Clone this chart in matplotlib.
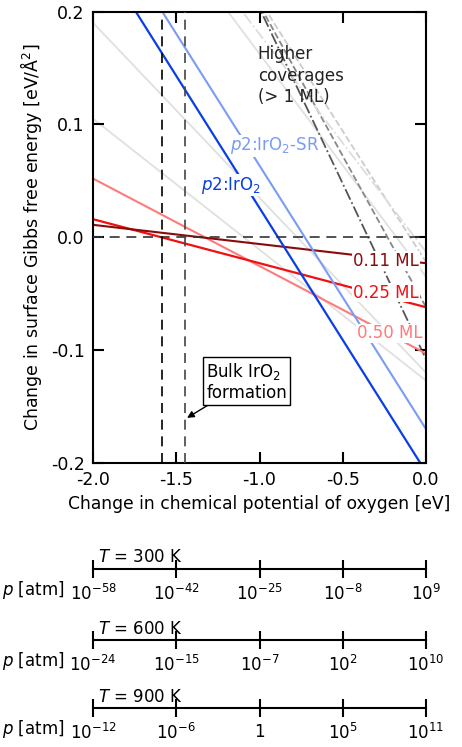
import numpy as np
import matplotlib
matplotlib.use('Agg')
import matplotlib.pyplot as plt

plt.rcParams['font.family'] = ['DejaVu Sans']
plt.rcParams['mathtext.fontset'] = 'dejavusans'

# chemical potential range and surface free energies at its two ends
mu_ends = [-2.0, 0.0]
p2_iro2 = [0.26, -0.208]
p2_iro2_sr = [0.297, -0.170]
cov_011 = [0.011, -0.023]
cov_025 = [0.016, -0.062]
cov_050 = [0.052, -0.103]
grey_lines = [[0.19, -0.120], [0.105, -0.127], [0.36, -0.035]]
high_cov = [[0.514, -0.108], [0.474, -0.062], [0.442, -0.022], [0.373, -0.013]]
high_styles = [('#555555', '-.'), ('#888888', '--'), ('#cccccc', '--'), ('#dddddd', '-.')]

bulk_mu = [-1.584, -1.447]

# pressure scales
scale_T = ['300', '600', '900']
scale_mu = [-2.0, -1.5, -1.0, -0.5, 0.0]
scale_labels = [
    ['10$^{-58}$', '10$^{-42}$', '10$^{-25}$', '10$^{-8}$', '10$^{9}$'],
    ['10$^{-24}$', '10$^{-15}$', '10$^{-7}$', '10$^{2}$', '10$^{10}$'],
    ['10$^{-12}$', '10$^{-6}$', '1', '10$^{5}$', '10$^{11}$'],
]

W, H = 462, 747
fig = plt.figure(figsize=(W / 100, H / 100), dpi=100)
ax = fig.add_axes([93 / W, 1 - 463 / H, 333 / W, 451.5 / H])

for g in grey_lines:
    ax.plot(mu_ends, g, color='#e0e0e0', lw=1.3, zorder=1)
for h, (c, ls) in zip(high_cov, high_styles):
    ax.plot(mu_ends, h, color=c, ls=ls, lw=1.3, zorder=1)

ax.plot(mu_ends, cov_050, color='#ff7a7a', lw=1.5, zorder=2)
ax.plot(mu_ends, cov_025, color='#f01010', lw=1.6, zorder=2)
ax.plot(mu_ends, cov_011, color='#8b0a0a', lw=1.5, zorder=2)
ax.plot(mu_ends, p2_iro2_sr, color='#7b9bf5', lw=1.5, zorder=2)
ax.plot(mu_ends, p2_iro2, color='#0a3ee6', lw=1.6, zorder=2)

ax.axhline(0, color='#333333', ls=(0, (6, 4)), lw=1.2, zorder=3)
ax.axvline(bulk_mu[0], color='black', ls=(0, (6, 4)), lw=1.2, zorder=3)
ax.axvline(bulk_mu[1], color='#444444', ls=(0, (6, 4)), lw=1.2, zorder=3)

wb = dict(facecolor='white', edgecolor='none', pad=0.5)
ax.text(-0.24, -0.021, '0.11 ML', color='#8b0a0a', fontsize=12, ha='center', va='center', bbox=wb, zorder=4)
ax.text(-0.24, -0.049, '0.25 ML', color='#f01010', fontsize=12, ha='center', va='center', bbox=wb, zorder=4)
ax.text(-0.22, -0.085, '0.50 ML', color='#ff7a7a', fontsize=12, ha='center', va='center', bbox=wb, zorder=4)
ax.text(-0.91, 0.081, '$p$2:IrO$_2$-SR', color='#7b9bf5', fontsize=12, ha='center', va='center', bbox=wb, zorder=4)
ax.text(-1.17, 0.046, '$p$2:IrO$_2$', color='#0a3ee6', fontsize=12, ha='center', va='center', bbox=wb, zorder=4)
ax.text(-1.01, 0.170, 'Higher\ncoverages\n(> 1 ML)', color='#222222', fontsize=12,
        ha='left', va='top', linespacing=1.25, zorder=4)

ax.annotate('Bulk IrO$_2$\nformation', xy=(-1.435, -0.160), xytext=(-1.32, -0.128),
            fontsize=12, ha='left', va='center', linespacing=1.15,
            bbox=dict(facecolor='white', edgecolor='black', lw=1.0, pad=2),
            arrowprops=dict(arrowstyle='-|>', color='black', lw=1.0, shrinkA=0, shrinkB=0,
                            mutation_scale=10), zorder=5)

ax.set_xlim(-2.0, 0.0)
ax.set_ylim(-0.2, 0.2)
ax.set_xticks([-2.0, -1.5, -1.0, -0.5, 0.0])
ax.set_yticks([-0.2, -0.1, 0.0, 0.1, 0.2])
ax.set_xticklabels(['-2.0', '-1.5', '-1.0', '-0.5', '0.0'])
ax.set_yticklabels(['-0.2', '-0.1', '0.0', '0.1', '0.2'])
ax.tick_params(direction='in', length=8, width=1.5, labelsize=12.5, top=True, right=True, pad=6)
for s in ax.spines.values():
    s.set_linewidth(1.5)
ax.set_xlabel('Change in chemical potential of oxygen [eV]', fontsize=12.3, labelpad=4)
ax.set_ylabel('Change in surface Gibbs free energy [eV/Å$^2$]', fontsize=12.5, labelpad=5)

# pressure scales below
for i, (T, labs) in enumerate(zip(scale_T, scale_labels)):
    yc = [569, 640, 708][i]
    sax = fig.add_axes([93 / W, 1 - (yc + 10) / H, 333 / W, 20 / H])
    sax.set_xlim(-2.0, 0.0)
    sax.set_ylim(-1, 1)
    for k in ['top', 'left', 'right']:
        sax.spines[k].set_visible(False)
    sax.spines['bottom'].set_position(('data', 0))
    sax.spines['bottom'].set_linewidth(1.5)
    sax.set_yticks([])
    sax.set_xticks(scale_mu)
    sax.set_xticklabels(labs)
    sax.tick_params(axis='x', direction='inout', length=13, width=1.5, labelsize=12, pad=4)
    sax.patch.set_visible(False)
    sax.text(-1.97, 0.25, '$T$ = ' + T + ' K', fontsize=12, ha='left', va='bottom')
    fig.text(2 / W, 1 - (yc + 21) / H, '$p$ [atm]', fontsize=12, ha='left', va='center')

fig.savefig('out.png', dpi=100)
